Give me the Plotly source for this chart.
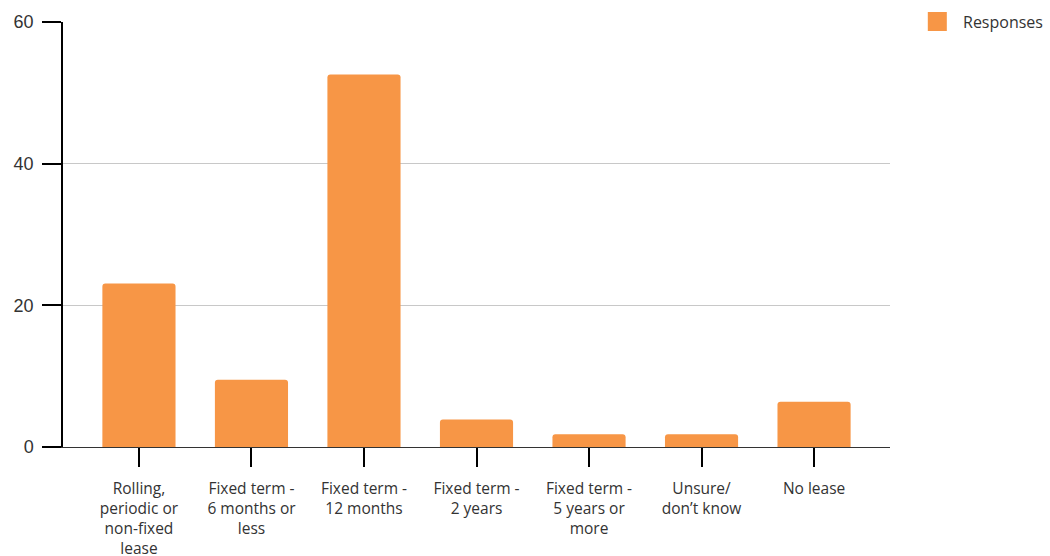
import plotly.graph_objects as go

categories = [
    "Rolling,<br>periodic or<br>non-fixed<br>lease",
    "Fixed term -<br>6 months or<br>less",
    "Fixed term -<br>12 months",
    "Fixed term -<br>2 years",
    "Fixed term -<br>5 years or<br>more",
    "Unsure/<br>don’t know",
    "No lease",
]
responses = [23.1, 9.5, 52.6, 3.9, 1.8, 1.8, 6.4]
y_ticks = [0, 20, 40, 60]

bar_color = "#F79646"
text_color = "#333333"

fig = go.Figure()
fig.add_trace(go.Bar(
    x=list(range(len(categories))),
    y=responses,
    name="Responses",
    marker=dict(color=bar_color, line=dict(width=0)),
    width=0.65,
    showlegend=False,
))

fig.update_layout(
    width=1050,
    height=556,
    margin=dict(l=63, r=160, t=22, b=109),
    plot_bgcolor="white",
    paper_bgcolor="white",
    barcornerradius=3,
    font=dict(family="Open Sans, sans-serif", color=text_color),
    xaxis=dict(
        tickmode="array",
        tickvals=list(range(len(categories))),
        ticktext=categories,
        range=[-0.675, 6.675],
        showgrid=False,
        showline=True,
        linecolor="#333333",
        linewidth=1,
        ticks="outside",
        ticklen=19,
        tickcolor="#000000",
        tickwidth=1.5,
        ticklabelstandoff=8,
        tickfont=dict(family="Open Sans, sans-serif", size=15.5, color=text_color),
        zeroline=False,
        automargin=False,
    ),
    yaxis=dict(
        range=[0, 60],
        tickvals=y_ticks,
        showgrid=True,
        gridcolor="#c8c8c8",
        gridwidth=1,
        showline=True,
        linecolor="#000000",
        linewidth=1.5,
        ticks="outside",
        ticklen=19,
        tickcolor="#000000",
        tickwidth=1.5,
        ticklabelstandoff=5,
        tickfont=dict(family="Liberation Sans, Arial, sans-serif", size=18, color=text_color),
        zeroline=False,
        automargin=False,
    ),
)

# Legend drawn as a swatch plus label to the right of the plot area
fig.add_shape(
    type="rect", xref="paper", yref="paper",
    x0=1.0457, x1=1.0687, y0=1.0 - (31 - 22) / 425, y1=1.0 + (22 - 12) / 425,
    fillcolor=bar_color, line=dict(width=0),
)
fig.add_annotation(
    text="Responses", xref="paper", yref="paper",
    x=1.0855, y=1.0, xanchor="left", yanchor="middle",
    showarrow=False,
    font=dict(family="Open Sans, sans-serif", size=16, color=text_color),
)

fig.write_html("out.html")
